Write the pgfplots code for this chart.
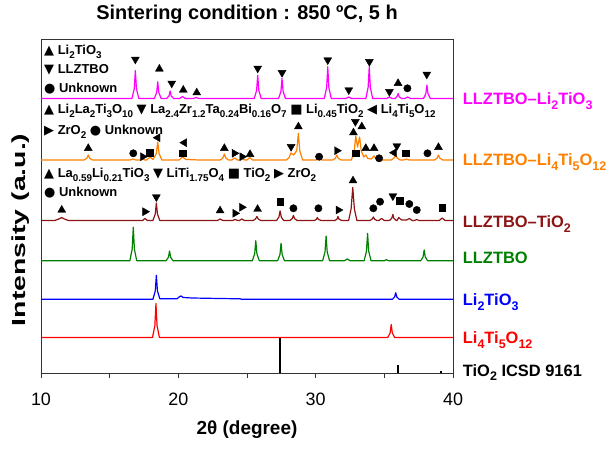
\documentclass[border=0pt]{standalone}
\usepackage{graphicx}
\usepackage{fontspec}
\setmainfont{Liberation Sans}
\newfontfamily\sym{DejaVu Sans}
\usepackage{pgfplots}
\pgfplotsset{compat=1.18}

\definecolor{cMag}{RGB}{255,0,255}
\definecolor{cOra}{RGB}{255,128,0}
\definecolor{cDR}{RGB}{140,20,20}
\definecolor{cGre}{RGB}{0,128,0}
\definecolor{cBlu}{RGB}{0,0,255}
\definecolor{cRed}{RGB}{255,0,0}

\pgfplotsset{
  trace/.style={no marks, line width=1.2pt, line join=round},
  mup/.style={only marks, mark=triangle*, mark size=4.6pt, mark options={black}},
  mdown/.style={only marks, mark=triangle*, mark size=4.6pt, mark options={black, rotate=180}},
  mright/.style={only marks, mark=triangle*, mark size=4.6pt, mark options={black, rotate=-90}},
  mleft/.style={only marks, mark=triangle*, mark size=4.6pt, mark options={black, rotate=90}},
  msq/.style={only marks, mark=square*, mark size=3.4pt, mark options={black}},
  mcirc/.style={only marks, mark=*, mark size=3.7pt, mark options={black}},
}

\newcommand{\keyfont}{\fontsize{13}{15}\selectfont\bfseries}
\newcommand{\rlfont}{\fontsize{16.5}{18}\selectfont\bfseries}
\newcommand{\sub}[1]{\raisebox{-0.3em}{\scalebox{0.76}{#1}}}

\begin{document}
\begin{tikzpicture}
\useasboundingbox (-41bp,-77bp) rectangle (571bp,373bp);
\begin{axis}[
  scale only axis,
  width=412bp, height=333bp,
  xmin=10, xmax=40, ymin=0, ymax=333,
  xtick={10,20,30,40},
  minor xtick={15,25,35},
  ytick=\empty,
  xtick pos=bottom,
  tick align=outside,
  major tick length=5bp, minor tick length=5bp,
  every tick/.style={black!80, line width=1pt},
  axis line style={black!80, line width=1pt},
  clip=false,
  /pgf/number format/assume math mode=true,
  xticklabel style={font=\fontsize{18}{20}\selectfont, yshift=-11bp},
  xlabel={2θ (degree)},
  xlabel style={font=\fontsize{19}{22}\selectfont\bfseries, at={(axis description cs:0.5,0)}, anchor=center, yshift=-57bp},
  ylabel={\scalebox{1.5}[1]{Intensity (a.u.)}},
  ylabel style={font=\fontsize{19}{22}\selectfont\bfseries, at={(axis description cs:-0.05,0.43)}, anchor=center},
  title={Sintering condition : 850 ºC, 5 h},
  title style={font=\fontsize{20}{22}\selectfont\bfseries, at={(axis description cs:0.5,1)}, anchor=base, yshift=15bp},
]

% TiO2 ICSD 9161 reference sticks
\addplot[ycomb, black, line width=2.2pt, no marks] coordinates {(27.4,35) (36.0,8) (39.1,2.5)};

% Li4Ti5O12
\addplot[trace, cRed] coordinates {
(10,35.5) (18.12,35.5) (18.29,47.4) (18.37,69.5) (18.45,47.4) (18.62,35.5)
(35.25,35.5) (35.42,40) (35.5,48.5) (35.58,40) (35.75,35.5) (40,35.5)};

% Li2TiO3
\addplot[trace, cBlu] coordinates {
(10,73.7) (18.15,73.7) (18.32,82) (18.4,97.7) (18.48,82) (18.65,74.2)
(19.9,74.2) (20.1,76.5) (20.2,77) (20.35,75.5) (21,75) (23,74.5) (24.5,74.2) (24.6,73.7)
(35.58,73.7) (35.75,76) (35.83,80.3) (35.91,76) (36.08,73.7) (40,73.7)};

% LLZTBO
\addplot[trace, cGre] coordinates {
(10,112.3) (16.47,112.3) (16.64,124.0) (16.72,145.7) (16.80,124.0) (16.97,112.3)
(19.11,112.3) (19.28,115.7) (19.36,122.0) (19.44,115.7) (19.61,112.3)
(25.39,112.3) (25.56,119.3) (25.64,132.3) (25.72,119.3) (25.89,112.3)
(27.23,112.3) (27.40,118.4) (27.48,129.7) (27.56,118.4) (27.73,112.3)
(30.51,112.3) (30.68,121.0) (30.76,137.0) (30.84,121.0) (31.01,112.3)
(32.1,112.3) (32.3,114) (32.5,112.3)
(33.53,112.3) (33.70,121.9) (33.78,139.7) (33.86,121.9) (34.03,112.3)
(35.0,112.3) (35.15,113.3) (35.3,112.3)
(37.65,112.3) (37.82,116.0) (37.90,123.0) (37.98,116.0) (38.15,112.3) (40,112.3)};

% LLZTBO-TiO2
\addplot[trace, cDR] coordinates {
(10,152.5) (11.0,152.5) (11.3,154) (11.5,155.5) (11.7,154) (12.0,152.5)
(17.4,152.5) (17.57,154.5) (17.75,152.5)
(18.15,152.5) (18.32,159) (18.4,170) (18.48,159) (18.65,152.5)
(22.85,152.5) (23.04,154) (23.25,152.5)
(23.95,152.5) (24.13,153.5) (24.35,152.5) (24.45,152.5) (24.62,154) (24.8,152.5)
(25.45,152.5) (25.62,154) (25.72,156.5) (25.82,154) (26.0,152.5)
(27.15,152.5) (27.32,155.8) (27.41,162) (27.5,155.8) (27.67,152.5)
(28.12,152.5) (28.29,154.3) (28.38,157.5) (28.47,154.3) (28.65,152.5)
(29.9,152.5) (30.05,153.6) (30.12,155.5) (30.2,153.6) (30.4,152.5)
(31.4,152.5) (31.56,153.9) (31.62,156.5) (31.7,153.9) (31.9,152.5)
(32.4,152.5) (32.58,164) (32.7,185.5) (32.82,164) (33.0,152.5)
(33.95,152.5) (34.11,153.9) (34.2,156) (34.29,153.9) (34.45,152.5)
(34.6,152.5) (34.8,154.5) (35.0,152.5)
(35.37,152.5) (35.54,154.6) (35.62,158.5) (35.7,154.6) (35.87,152.5)
(35.92,152.5) (36.05,155.5) (36.25,153)
(36.62,153) (36.82,154.5) (37.02,152.5)
(37.2,152.5) (37.36,153.5) (37.52,152.5)
(39.0,152.5) (39.21,155) (39.42,152.5) (40,152.5)};

% LLZTBO-Li4Ti5O12
\addplot[trace, cOra] coordinates {
(10,213) (13.14,213) (13.34,214.8) (13.44,218) (13.54,214.8) (13.74,213)
(16.5,213) (16.7,214) (16.9,213)
(17.25,213) (17.4,214) (17.55,213)
(17.7,213) (17.94,216) (18.15,213.5) (18.4,219.4) (18.5,231) (18.6,219.4) (18.8,213)
(20.05,213) (20.3,216) (20.55,213.5) (21,213.3) (21.5,213)
(23.05,213) (23.25,215.1) (23.35,219) (23.45,215.1) (23.65,213)
(23.9,213) (24.1,215) (24.3,213)
(24.45,213) (24.64,214.5) (24.85,213)
(25.0,213) (25.2,215.5) (25.4,213)
(27.85,213) (28.05,215) (28.2,220) (28.4,218) (28.62,222.3) (28.74,239.7) (28.84,222.3) (29.05,213)
(30.05,213) (30.25,214) (30.45,213)
(31.25,213) (31.44,214.8) (31.54,218) (31.64,214.8) (31.85,213)
(32.6,213) (32.8,221.4) (32.92,237) (33.05,226) (33.2,236) (33.32,222) (33.5,216) (33.65,218)
(33.8,214.5) (34.05,214) (34.25,217) (34.45,213.5) (34.7,213)
(35.5,213) (35.7,214.8) (35.82,218) (35.95,214.8) (36.15,213)
(36.4,213) (36.6,214) (36.8,213)
(38.65,213) (38.84,214.8) (38.94,218) (39.04,214.8) (39.25,213) (40,213)};

% LLZTBO-Li2TiO3
\addplot[trace, cMag] coordinates {
(10,274.5) (16.62,274.5) (16.79,284.2) (16.87,302.3) (16.95,284.2) (17.12,274.5)
(18.25,274.5) (18.42,280.4) (18.5,291.3) (18.58,280.4) (18.75,274.5)
(19.15,274.5) (19.32,277.1) (19.4,282) (19.48,277.1) (19.65,274.5)
(20.1,274.5) (20.3,276.5) (20.5,274.5)
(21.1,274.5) (21.3,275.5) (21.5,274.5)
(25.53,274.5) (25.70,282.7) (25.78,297.8) (25.86,282.7) (26.03,274.5)
(27.30,274.5) (27.47,281.5) (27.55,294.5) (27.63,281.5) (27.80,274.5)
(30.63,274.5) (30.80,285.6) (30.88,306.2) (30.96,285.6) (31.13,274.5)
(32.2,274.5) (32.4,276) (32.6,274.5)
(33.65,274.5) (33.82,285.6) (33.9,306.2) (33.98,285.6) (34.15,274.5)
(35.17,274.5) (35.37,276) (35.57,274.5)
(35.8,274.5) (35.92,276.3) (36.0,279.5) (36.08,276.3) (36.25,274.5)
(36.5,274.5) (36.7,276) (36.9,274.5)
(37.85,274.5) (38.02,279.2) (38.1,287.8) (38.18,279.2) (38.35,274.5) (40,274.5)};

% phase markers
\addplot[mup] coordinates {
(18.62,304) (20.36,283) (21.34,280.3) (36.0,289.7)
(13.44,224.7) (23.35,224.7) (25.22,218.7) (28.74,246.3) (32.75,240.3) (33.36,246.3)
(33.65,224.7) (34.25,224.7) (38.94,225.7)
(11.51,163) (23.04,162.3) (25.77,163.8) (32.72,192.3)};
\addplot[mdown] coordinates {
(16.87,313.7) (19.52,289.7) (25.78,304.7) (27.55,300.3) (30.88,313) (32.41,283)
(33.91,311.3) (35.37,281.3) (38.09,298.7)
(28.21,226.3) (32.89,251.3) (35.91,227)
(18.4,176) (35.62,177)};
\addplot[mright] coordinates {
(17.41,216.3) (24.08,219.7) (24.64,216.3) (31.54,222.3)
(17.57,161.3) (24.13,159.7) (24.62,165.7) (31.65,163)};
\addplot[mleft] coordinates {(18.5,235.3) (20.44,230.3) (35.71,220.3)};
\addplot[msq] coordinates {
(17.94,220.3) (20.29,219.7) (32.89,219.7) (36.58,219.7)
(27.41,171.3) (36.1,172.3) (39.21,165.3)};
\addplot[mcirc] coordinates {
(36.68,284.7)
(16.72,219.7) (30.25,216.3) (34.62,214.7) (38.14,219.7)
(28.38,164.7) (30.2,164.7) (34.2,164.7) (34.69,171.3) (36.82,169) (37.36,163)};

% phase keys inside the frame
\node[anchor=base west, inner sep=0pt, font=\keyfont] at (axis cs:10.22,318.5) {{\sym ▲} Li\sub{2}TiO\sub{3}};
\node[anchor=base west, inner sep=0pt, font=\keyfont] at (axis cs:10.22,299.5) {{\sym ▼} LLZTBO};
\node[anchor=base west, inner sep=0pt, font=\keyfont] at (axis cs:10.22,280.5) {{\sym ●} Unknown};
\node[anchor=base west, inner sep=0pt, font=\keyfont] at (axis cs:10.22,259) {{\sym ▲} Li\sub{2}La\sub{2}Ti\sub{3}O\sub{10} {\sym ▼} La\sub{2.4}Zr\sub{1.2}Ta\sub{0.24}Bi\sub{0.16}O\sub{7} {\sym ■} Li\sub{0.45}TiO\sub{2} {\sym ◀} Li\sub{4}Ti\sub{5}O\sub{12}};
\node[anchor=base west, inner sep=0pt, font=\keyfont] at (axis cs:10.22,238.5) {{\sym ▶} ZrO\sub{2} {\sym ●} Unknown};
\node[anchor=base west, inner sep=0pt, font=\keyfont] at (axis cs:10.22,195.5) {{\sym ▲} La\sub{0.59}Li\sub{0.21}TiO\sub{3} {\sym ▼} LiTi\sub{1.75}O\sub{4} {\sym ■} TiO\sub{2} {\sym ▶} ZrO\sub{2}};
\node[anchor=base west, inner sep=0pt, font=\keyfont] at (axis cs:10.22,176) {{\sym ●} Unknown};

% sample names on the right
\node[anchor=base west, inner sep=0pt, font=\rlfont, text=cMag, xshift=9.7bp] at (axis cs:40,268.5) {LLZTBO–Li\sub{2}TiO\sub{3}};
\node[anchor=base west, inner sep=0pt, font=\rlfont, text=cOra, xshift=9.7bp] at (axis cs:40,207.5) {LLZTBO–Li\sub{4}Ti\sub{5}O\sub{12}};
\node[anchor=base west, inner sep=0pt, font=\rlfont, text=cDR, xshift=9.7bp] at (axis cs:40,145.5) {LLZTBO–TiO\sub{2}};
\node[anchor=base west, inner sep=0pt, font=\rlfont, text=cGre, xshift=9.7bp] at (axis cs:40,109) {LLZTBO};
\node[anchor=base west, inner sep=0pt, font=\rlfont, text=cBlu, xshift=9.7bp] at (axis cs:40,67.5) {Li\sub{2}TiO\sub{3}};
\node[anchor=base west, inner sep=0pt, font=\rlfont, text=cRed, xshift=9.7bp] at (axis cs:40,29.2) {Li\sub{4}Ti\sub{5}O\sub{12}};
\node[anchor=base west, inner sep=0pt, font=\rlfont, text=black, xshift=9.7bp] at (axis cs:40,-3) {TiO\sub{2} ICSD 9161};
\end{axis}
\end{tikzpicture}
\end{document}
